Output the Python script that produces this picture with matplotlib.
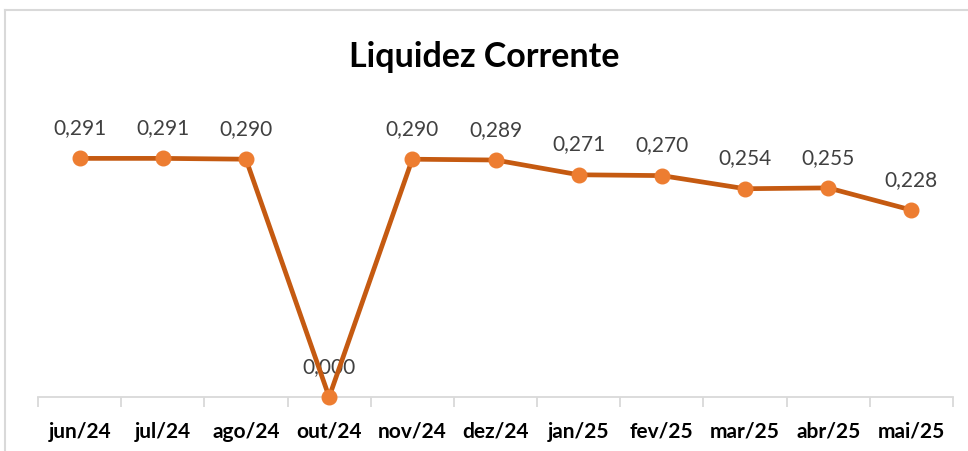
import matplotlib.pyplot as plt
from matplotlib.lines import Line2D
import numpy as np

# data
months = ['jun/24', 'jul/24', 'ago/24', 'out/24', 'nov/24', 'dez/24',
          'jan/25', 'fev/25', 'mar/25', 'abr/25', 'mai/25']
liquidez = [0.291, 0.291, 0.290, 0.000, 0.290, 0.289,
            0.271, 0.270, 0.254, 0.255, 0.228]

plt.rcParams['font.family'] = ['Lato', 'DejaVu Sans']

fig = plt.figure(figsize=(9.68, 4.52), dpi=100)
ax = fig.add_axes([38 / 968, 1 - 398 / 452, (953 - 38) / 968, (398 - 111) / 452])

x = np.arange(len(months))
ax.plot(x, liquidez, color='#C55A11', lw=3.4, zorder=2, clip_on=False)
ax.plot(x, liquidez, 'o', color='#ED7D31', ms=10.5, zorder=3, clip_on=False)

for xi, v in zip(x, liquidez):
    ax.annotate(f'{v:.3f}'.replace('.', ','), (xi, v), xytext=(0, 22.5),
                textcoords='offset points', ha='center', va='center',
                fontsize=15, color='#404040', zorder=1)

ax.set_xlim(-0.5, len(months) - 0.5)
ax.set_ylim(0, 0.35)

# ticks on category borders, labels at centres
ax.set_xticks(np.arange(len(months) + 1) - 0.5)
ax.set_xticklabels([])
ax.set_xticks(x, minor=True)
ax.set_xticklabels(months, minor=True, fontsize=15, fontweight='bold')
ax.tick_params(axis='x', which='major', length=7, color='#D9D9D9', width=1.3)
ax.tick_params(axis='x', which='minor', length=0, pad=17)
ax.set_yticks([])

for s in ['top', 'right', 'left']:
    ax.spines[s].set_visible(False)
ax.spines['bottom'].set_color('#D9D9D9')
ax.spines['bottom'].set_linewidth(1.3)

fig.text(0.5, 1 - 57 / 452, 'Liquidez Corrente', ha='center', va='center',
         fontsize=24.5, fontweight='bold')

# outer chart border (only top and left are visible in the crop)
fig.add_artist(Line2D([5 / 968, 5 / 968], [0, 1 - 11 / 452], color='#D9D9D9', lw=1.5))
fig.add_artist(Line2D([5 / 968, 1], [1 - 11 / 452, 1 - 11 / 452], color='#D9D9D9', lw=1.5))

fig.savefig('out.png', dpi=100)
